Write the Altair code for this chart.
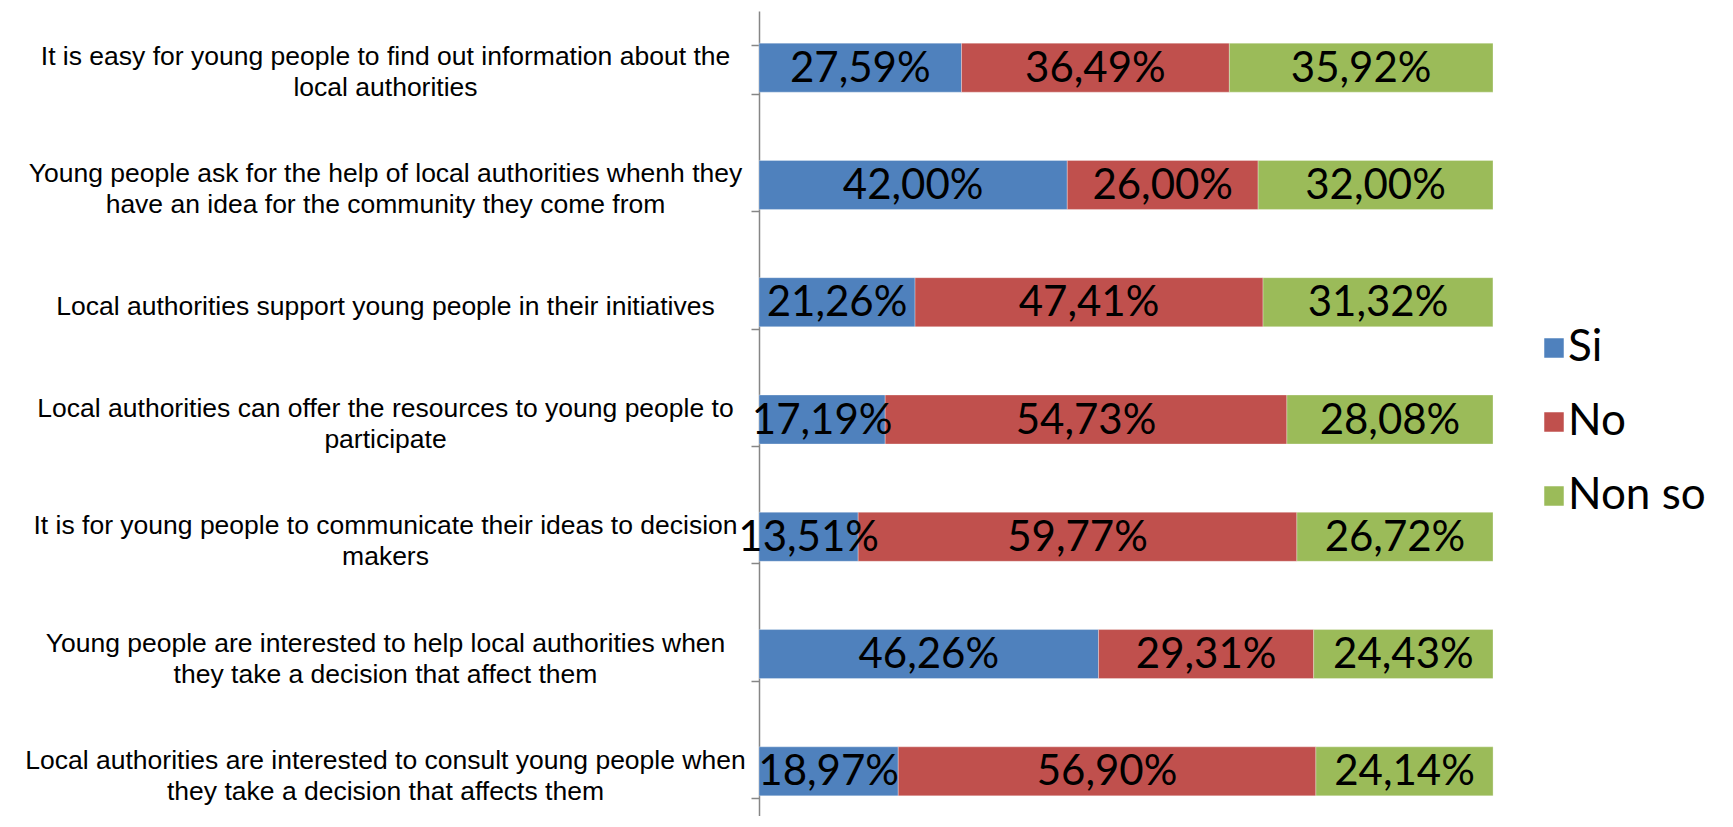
import altair as alt
import pandas as pd

statements = [
    ["It is easy for young people to find out information about the", "local authorities"],
    ["Young people ask for the help of local authorities whenh they", "have an idea for the community they come from"],
    ["Local authorities support young people in their initiatives"],
    ["Local authorities can offer the resources to young people to", "participate"],
    ["It is for young people to communicate their ideas to decision", "makers"],
    ["Young people are interested to help local authorities when", "they take a decision that affect them"],
    ["Local authorities are interested to consult young people when", "they take a decision that affects them"],
]
si = [27.59, 42.00, 21.26, 17.19, 13.51, 46.26, 18.97]
no = [36.49, 26.00, 47.41, 54.73, 59.77, 29.31, 56.90]
non_so = [35.92, 32.00, 31.32, 28.08, 26.72, 24.43, 24.14]
series = ["Si", "No", "Non so"]
colors = ["#4F81BD", "#C0504D", "#9BBB59"]

cats = ["|".join(s) for s in statements]
rows = []
for i, c in enumerate(cats):
    for k, (name, vals) in enumerate(zip(series, [si, no, non_so])):
        rows.append({"statement": c, "series": name, "value": vals[i], "order": k})
df = pd.DataFrame(rows)

base = alt.Chart(df).transform_stack(
    stack="value", groupby=["statement"], sort=[alt.SortField("order")], as_=["x0", "x1"]
).transform_calculate(
    mid="(datum.x0 + datum.x1) / 2",
    lbl="replace(format(datum.value, '.2f'), '.', ',') + '%'",
)

yenc = alt.Y(
    "statement:N",
    sort=cats,
    title=None,
    scale=alt.Scale(range=[0, 821], paddingInner=0.582, paddingOuter=0.291),
    axis=alt.Axis(
        labelExpr="split(datum.label, '|')",
        labelAlign="center",
        labelBaseline="middle",
        labelOffset={"condition": {"test": "indexof(datum.label, '|') >= 0", "value": -13}, "value": 2},
        labelPadding=366,
        labelLimit=1000,
        labelFont="Liberation Sans",
        labelFontSize=26.5,
        labelLineHeight=31,
        labelColor="#000000",
        tickBand="extent",
        tickSize=8,
        tickColor="#868686",
        domainColor="#868686",
        tickWidth=1.5,
        domainWidth=1.5,
    ),
)

xscale = alt.Scale(domain=[0, 100], nice=False, zero=True)

bars = base.mark_bar(stroke="#ffffff", strokeWidth=0.5, strokeOpacity=0.6, yOffset=-2).encode(
    y=yenc,
    x=alt.X("x0:Q", scale=xscale, axis=None),
    x2="x1:Q",
    color=alt.Color(
        "series:N",
        scale=alt.Scale(domain=series, range=colors),
        legend=alt.Legend(
            orient="none",
            legendX=773,
            legendY=315,
            title=None,
            symbolType="square",
            symbolSize=380,
            symbolStrokeWidth=0,
            labelFont="Lato",
            labelFontSize=44,
            labelColor="#000000",
            labelOffset={"expr": "-8"},
            rowPadding=30,
        ),
    ),
)

texts = base.mark_text(
    font="Lato", fontSize=42, color="#000000", align="center", baseline="middle", dy=-1
).encode(
    y=alt.Y("statement:N", sort=cats),
    x=alt.X("mid:Q", scale=xscale),
    text="lbl:N",
)

chart = alt.layer(bars, texts).properties(
    width=734,
    height=805,
    autosize=alt.AutoSizeParams(type="none"),
    padding={"left": 751, "top": 3, "right": 225, "bottom": 0},
).configure_view(stroke=None)

chart.save("out.html", embed_options={"renderer": "svg", "actions": False})
